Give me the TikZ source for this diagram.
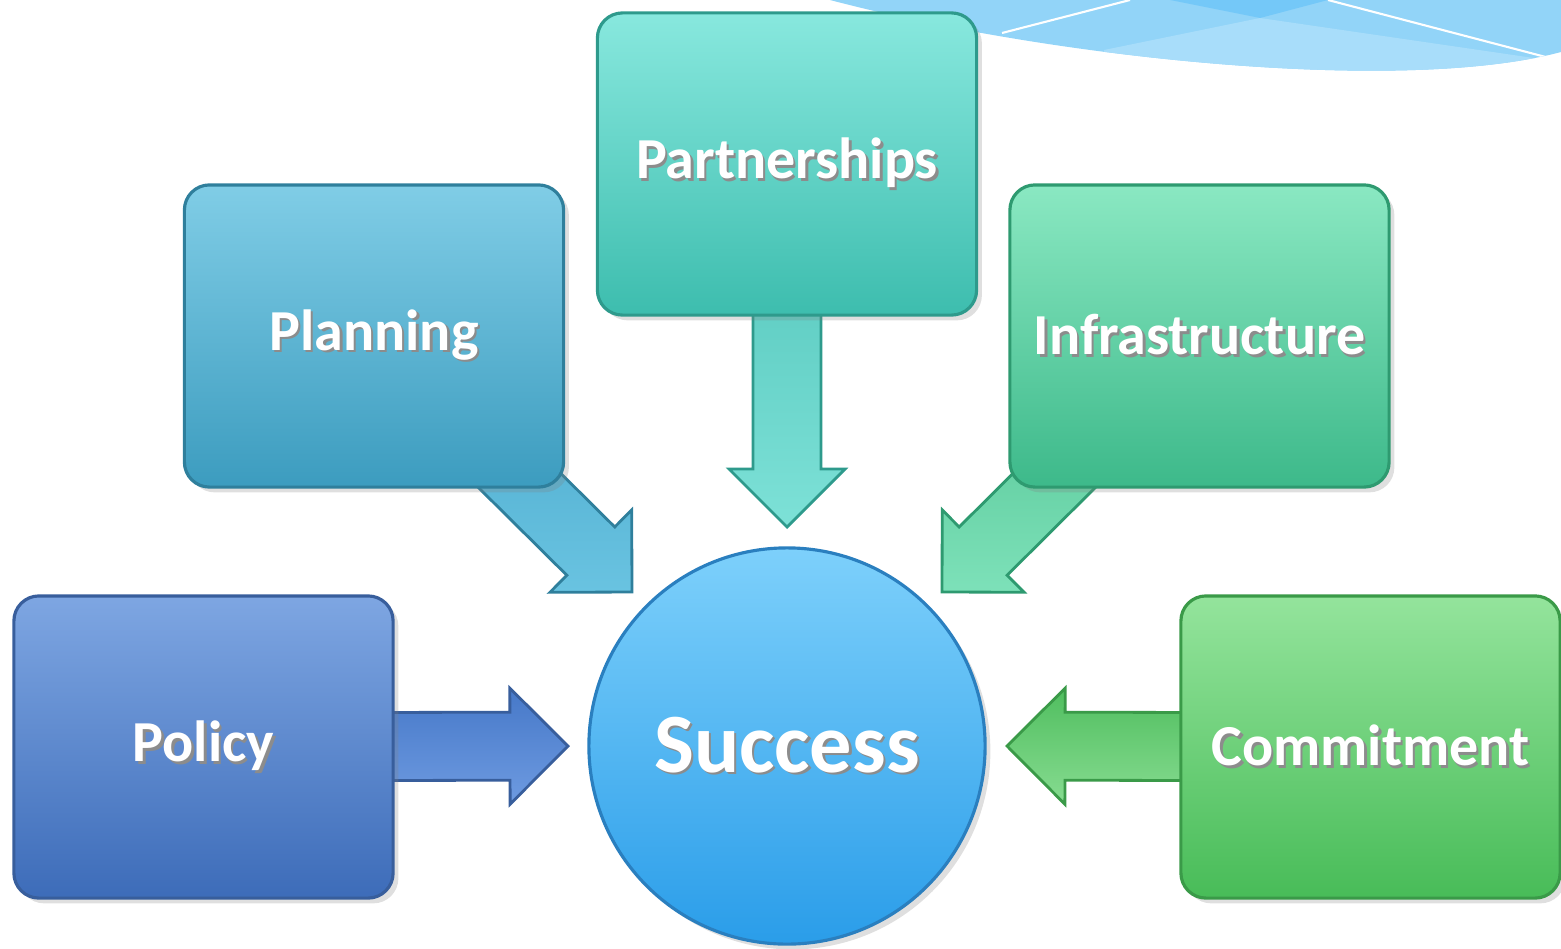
\documentclass[tikz,border=0pt]{standalone}
\usepackage{fontspec}
\setmainfont{Carlito}
\usetikzlibrary{calc,shadows}

\pgfdeclarelayer{back}
\pgfsetlayers{back,main}

\definecolor{skyA}{HTML}{92D4F8}
\definecolor{skyB}{HTML}{74C8F8}
\definecolor{skyC}{HTML}{A8DDFA}

% white label with a dark offset copy behind it
\newcommand\shadowed[1]{\makebox[0pt][l]{\hspace{0.7pt}\raisebox{-0.7pt}{\color{black!45}#1}}#1}

% fat block arrow from #2 to #3, tip at #3
\newcommand\fatarrow[3]{%
  \coordinate (h) at ($(#3)!0.58cm!(#2)$);
  \draw [#1] ($(#2)!0.34cm!90:(#3)$) -- ($(h)!0.34cm!-90:(#2)$) -- ($(h)!0.58cm!-90:(#2)$)
    -- (#3) -- ($(h)!0.58cm!90:(#2)$) -- ($(h)!0.34cm!90:(#2)$) -- ($(#2)!0.34cm!-90:(#3)$) -- cycle ;}

\tikzset{
  box/.style={rounded corners=0.25cm, minimum width=3.79cm, minimum height=3.02cm,
    line width=0.9pt, text=white, font=\bfseries\fontsize{16.5}{20}\selectfont,
    drop shadow={shadow xshift=1.5pt, shadow yshift=-1.5pt, opacity=0.25}},
  fat/.style={line width=0.8pt, line join=miter},
}

\begin{document}
\begin{tikzpicture}[x=0.01cm, y=-0.01cm]
\useasboundingbox (0,0) rectangle (1561,948) ;

% nodes
\node [box, draw={rgb,255:red,56;green,94;blue,156}, top color={rgb,255:red,126;green,166;blue,226}, bottom color={rgb,255:red,61;green,108;blue,185}] (policy) at (203.5,747) {\shadowed{Policy}} ;
\node [box, draw={rgb,255:red,47;green,127;blue,156}, top color={rgb,255:red,128;green,205;blue,230}, bottom color={rgb,255:red,60;green,156;blue,191}] (planning) at (374,336) {\shadowed{Planning}} ;
\node [box, draw={rgb,255:red,46;green,154;blue,140}, top color={rgb,255:red,136;green,232;blue,222}, bottom color={rgb,255:red,61;green,189;blue,174}] (partnerships) at (787,164) {\shadowed{Partnerships}} ;
\node [box, draw={rgb,255:red,46;green,154;blue,112}, top color={rgb,255:red,138;green,232;blue,194}, bottom color={rgb,255:red,61;green,185;blue,138}] (infra) at (1199.5,336) {\shadowed{Infrastructure}} ;
\node [box, draw={rgb,255:red,58;green,154;blue,72}, top color={rgb,255:red,148;green,228;blue,156}, bottom color={rgb,255:red,72;green,188;blue,88}] (commitment) at (1370.5,747) {\shadowed{Commitment}} ;
\node [circle, minimum size=3.96cm, line width=0.9pt, draw={rgb,255:red,42;green,127;blue,191}, top color={rgb,255:red,125;green,208;blue,251}, bottom color={rgb,255:red,42;green,157;blue,233}, text=white, font=\bfseries\fontsize{24}{28}\selectfont, drop shadow={shadow xshift=1.5pt, shadow yshift=-1.5pt, opacity=0.25}] (success) at (787,746) {\shadowed{Success}} ;

% arrow tips
\coordinate (tipP) at (568,746) ;
\coordinate (tipL) at (632,592) ;
\coordinate (tipT) at (787,527) ;
\coordinate (tipI) at (942,592) ;
\coordinate (tipC) at (1007,746) ;

\begin{pgfonlayer}{back}
% swoosh
\fill [skyA] (830,0) .. controls (1050,58) and (1400,95) .. (1561,52) -- (1561,0) -- cycle ;
\begin{scope}
\clip (830,0) .. controls (1050,58) and (1400,95) .. (1561,52) -- (1561,0) -- cycle ;
\fill [skyC] (1104,50) -- (1260,18) -- (1561,62) -- (1561,120) -- (1104,120) -- cycle ;
\fill [skyB] (1170,0) -- (1260,18) -- (1328,0) -- cycle ;
\draw [white, line width=0.6pt] (1002,33) -- (1130,0) ;
\draw [white, line width=0.6pt] (1328,0) -- (1561,61) ;
\end{scope}

\fatarrow{fat, draw={rgb,255:red,56;green,94;blue,156}, top color={rgb,255:red,70;green,120;blue,200}, bottom color={rgb,255:red,110;green,155;blue,225}}{policy}{tipP}
\fatarrow{fat, draw={rgb,255:red,47;green,127;blue,156}, top color={rgb,255:red,70;green,165;blue,200}, bottom color={rgb,255:red,105;green,195;blue,225}}{planning}{tipL}
\fatarrow{fat, draw={rgb,255:red,46;green,154;blue,140}, top color={rgb,255:red,80;green,195;blue,185}, bottom color={rgb,255:red,125;green,225;blue,215}}{partnerships}{tipT}
\fatarrow{fat, draw={rgb,255:red,46;green,154;blue,112}, top color={rgb,255:red,75;green,190;blue,140}, bottom color={rgb,255:red,125;green,225;blue,185}}{infra}{tipI}
\fatarrow{fat, draw={rgb,255:red,58;green,154;blue,72}, top color={rgb,255:red,80;green,190;blue,95}, bottom color={rgb,255:red,135;green,220;blue,145}}{commitment}{tipC}
\end{pgfonlayer}

\end{tikzpicture}
\end{document}
